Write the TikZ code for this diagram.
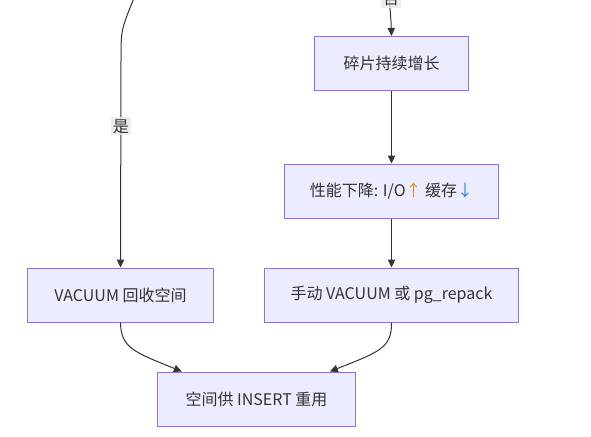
\documentclass[tikz,border=0pt]{standalone}
\usepackage{fontspec}
\setmainfont{Noto Sans CJK SC}
\usepackage{xcolor}
\usetikzlibrary{arrows.meta}

\definecolor{boxfill}{HTML}{ECECFF}
\definecolor{boxline}{HTML}{9370DB}
\definecolor{edgeline}{HTML}{333333}
\definecolor{lblfill}{HTML}{E8E8E8}
\definecolor{upcol}{HTML}{E8891A}
\definecolor{downcol}{HTML}{2F7FD0}

\tikzset{
  flowbox/.style={draw=boxline, fill=boxfill, line width=0.75pt, text=edgeline,
    minimum height=40.5pt, inner xsep=19pt, font=\fontsize{12}{14}\selectfont},
  flowedge/.style={draw=edgeline, line width=0.75pt, -{Triangle[length=6pt, width=5.5pt]}},
  edgelbl/.style={fill=lblfill, fill opacity=0.8, text opacity=1, text=edgeline,
    inner sep=1.5pt, font=\fontsize{12}{14}\selectfont}
}

\begin{document}
\begin{tikzpicture}[x=0.75pt, y=-0.75pt]
  \useasboundingbox (0,0) rectangle (591,436);
  \clip (0,0) rectangle (591,436);

  % Knoten
  \node[flowbox, minimum width=116pt] (grow) at (391.5,63.5) {碎片持续增长};
  \node[flowbox, minimum width=158pt] (slow) at (391.5,191)
    {性能下降: I/O\textcolor{upcol}{↑} 缓存\textcolor{downcol}{↓}};
  \node[flowbox, minimum width=140pt] (vac) at (120.5,295) {VACUUM 回收空间};
  \node[flowbox, minimum width=191pt] (manual) at (391.5,295) {手动 VACUUM 或 pg\_repack};
  \node[flowbox, minimum width=149pt] (reuse) at (256.5,399) {空间供 INSERT 重用};

  % Kanten von oben
  \coordinate (inyes) at (134,-2);
  \coordinate (inno) at (389,-2);
  \draw[flowedge] (inyes) .. controls (121,30) .. (121,60) -- (vac.north)
    node[edgelbl, pos=0.32] (yes) {是};
  \draw[flowedge] (inno) .. controls (391,20) .. (grow.north);
  \node[edgelbl] (no) at (391,-1) {否};

  % Kanten
  \draw[flowedge] (grow) -- (slow);
  \draw[flowedge] (slow) -- (manual);
  \draw[flowedge] (vac.south) .. controls (121,348) and (134,352) .. ([xshift=-56pt]reuse.north);
  \draw[flowedge] (manual.south) .. controls (392,348) and (379,352) .. ([xshift=55pt]reuse.north);
\end{tikzpicture}
\end{document}
